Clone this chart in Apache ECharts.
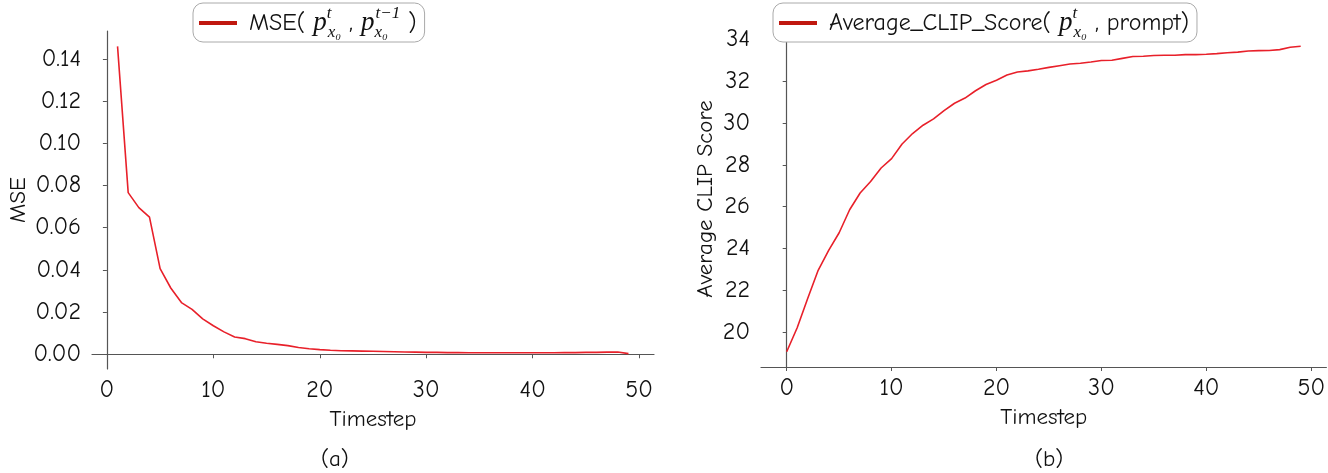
<!DOCTYPE html>
<html>
<head>
<meta charset="utf-8">
<script src="https://cdn.jsdelivr.net/npm/echarts@6/dist/echarts.min.js"></script>
<style>
  html, body { margin: 0; padding: 0; background: #fff; }
  #chart { width: 1328px; height: 473px; }
</style>
</head>
<body>
<div id="chart"></div>
<script>
// 数据：MSE（左图），t = 1..49
const mseSteps = [1, 2, 3, 4, 5, 6, 7, 8, 9, 10, 11, 12, 13, 14, 15, 16, 17, 18, 19, 20,
    21, 22, 23, 24, 25, 26, 27, 28, 29, 30, 31, 32, 33, 34, 35, 36, 37, 38, 39, 40,
    41, 42, 43, 44, 45, 46, 47, 48, 49];
const mseValues = [0.1459, 0.0766, 0.0695, 0.0650, 0.0406, 0.0314, 0.0245, 0.0213, 0.0168, 0.0135,
    0.0106, 0.0082, 0.0074, 0.0059, 0.0052, 0.0047, 0.0041, 0.0032, 0.0026, 0.0022,
    0.0019, 0.0017, 0.0016, 0.0015, 0.0014, 0.0013, 0.0012, 0.0011, 0.0010, 0.0009,
    0.0009, 0.0008, 0.0008, 0.0007, 0.0007, 0.0007, 0.0007, 0.0007, 0.0007, 0.0007,
    0.0007, 0.0007, 0.0008, 0.0008, 0.0009, 0.0009, 0.0010, 0.0011, 0.0003];

// 数据：平均 CLIP 分数（右图），t = 0..49
const clipSteps = [0, 1, 2, 3, 4, 5, 6, 7, 8, 9, 10, 11, 12, 13, 14, 15, 16, 17, 18, 19,
    20, 21, 22, 23, 24, 25, 26, 27, 28, 29, 30, 31, 32, 33, 34, 35, 36, 37, 38, 39,
    40, 41, 42, 43, 44, 45, 46, 47, 48, 49];
const clipValues = [19.05, 20.2, 21.6, 22.95, 23.9, 24.75, 25.85, 26.65, 27.2, 27.85,
    28.3, 29.0, 29.5, 29.9, 30.2, 30.6, 30.95, 31.2, 31.55, 31.85,
    32.05, 32.3, 32.45, 32.5, 32.58, 32.67, 32.75, 32.83, 32.87, 32.93,
    33.0, 33.01, 33.1, 33.19, 33.2, 33.24, 33.25, 33.25, 33.28, 33.28,
    33.3, 33.33, 33.37, 33.4, 33.45, 33.47, 33.48, 33.52, 33.63, 33.68];

// 刻度
const xTicks = [0, 10, 20, 30, 40, 50];
const mseTicks = [0, 0.02, 0.04, 0.06, 0.08, 0.10, 0.12, 0.14];
const clipTicks = [20, 22, 24, 26, 28, 30, 32, 34];

const FONT = "'Comic Sans MS', 'Comic Neue', 'Noto Sans', sans-serif";
const MATH = "'Liberation Serif', 'DejaVu Serif', serif";
const LINE_COLOR = '#e8202a';
const AXIS_COLOR = '#555';

// matplotlib 默认 5% 边距
function padRange(vals) {
    const lo = Math.min(...vals), hi = Math.max(...vals);
    const m = (hi - lo) * 0.05;
    return [lo - m, hi + m];
}

const mseX = padRange(mseSteps);
const mseY = padRange(mseValues);
const clipX = padRange(clipSteps);
const clipY = padRange(clipValues);

function xAxis(idx, range) {
    return {
        type: 'value', gridIndex: idx, min: range[0], max: range[1],
        name: 'Timestep', nameLocation: 'middle', nameGap: 39,
        nameTextStyle: { fontFamily: FONT, fontSize: 23, color: '#111' },
        axisLine: { lineStyle: { color: AXIS_COLOR, width: 1.2 } },
        axisTick: { length: 4, lineStyle: { color: AXIS_COLOR }, customValues: xTicks },
        axisLabel: { customValues: xTicks, fontFamily: FONT, fontSize: 24, color: '#111', margin: 9 },
        splitLine: { show: false }
    };
}

function yAxis(idx, range, ticks, name, gap, fmt) {
    return {
        type: 'value', gridIndex: idx, min: range[0], max: range[1],
        name: name, nameLocation: 'middle', nameGap: gap, nameRotate: 90,
        nameTextStyle: { fontFamily: FONT, fontSize: 23, color: '#111' },
        axisLine: { show: true, lineStyle: { color: AXIS_COLOR, width: 1.2 } },
        axisTick: { show: true, length: 4, lineStyle: { color: AXIS_COLOR }, customValues: ticks },
        axisLabel: { customValues: ticks, fontFamily: FONT, fontSize: 24, color: '#111', margin: 11, formatter: fmt },
        splitLine: { show: false }
    };
}

const mathRich = {
    n: { fontFamily: FONT, fontSize: 24, color: '#111', lineHeight: 36 },
    p: { fontFamily: MATH, fontStyle: 'italic', fontSize: 27, color: '#111', lineHeight: 36 },
    sup0: { fontFamily: MATH, fontStyle: 'italic', fontSize: 17, color: '#111', lineHeight: 15, verticalAlign: 'top', width: 1 },
    sup: { fontFamily: MATH, fontStyle: 'italic', fontSize: 17, color: '#111', lineHeight: 15, verticalAlign: 'top' },
    sub0: { fontFamily: MATH, fontStyle: 'italic', fontSize: 17, color: '#111', lineHeight: 15, verticalAlign: 'bottom', width: 1 },
    sub: { fontFamily: MATH, fontStyle: 'italic', fontSize: 17, color: '#111', lineHeight: 15, verticalAlign: 'bottom' }
};

function legend(left, name, label) {
    return {
        data: [name], left: left, top: 3,
        padding: [2, 8, 1, 6], itemWidth: 38, itemHeight: 4, itemGap: 0,
        borderColor: '#aaa', borderWidth: 1, borderRadius: 10,
        backgroundColor: '#fff',
        icon: 'rect',
        itemStyle: { color: '#c0180f' },
        formatter: () => label,
        textStyle: { rich: mathRich, padding: [0, 0, 0, 7] }
    };
}

const chart = echarts.init(document.getElementById('chart'));
chart.setOption({
    animation: false,
    backgroundColor: '#fff',
    grid: [
        { left: 92, top: 31, width: 562, height: 338 },
        { left: 761, top: 31, width: 566, height: 336 }
    ],
    xAxis: [xAxis(0, mseX), xAxis(1, clipX)],
    yAxis: [
        yAxis(0, mseY, mseTicks, 'MSE', 62, v => v.toFixed(2)),
        yAxis(1, clipY, clipTicks, 'Average CLIP Score', 44, v => String(Math.round(v)))
    ],
    legend: [
        legend(193, 'MSE', '{n|MSE( }{p|p}{sup0|t}{sub|x₀}{n| , }{p|p}{sub0|x₀}{sup|t−1}{n| )}'),
        legend(773, 'CLIP', '{n|Average_CLIP_Score( }{p|p}{sup0|t}{sub|x₀}{n| , prompt)}')
    ],
    title: [
        { text: '(a)', left: 316, top: 443, textStyle: { fontFamily: FONT, fontSize: 23, fontWeight: 'normal', color: '#111' } },
        { text: '(b)', left: 1030, top: 443, textStyle: { fontFamily: FONT, fontSize: 23, fontWeight: 'normal', color: '#111' } }
    ],
    series: [
        {
            name: 'MSE', type: 'line', xAxisIndex: 0, yAxisIndex: 0, symbol: 'none',
            data: mseSteps.map((t, i) => [t, mseValues[i]]),
            lineStyle: { color: LINE_COLOR, width: 1.6 }, itemStyle: { color: LINE_COLOR }
        },
        {
            name: 'CLIP', type: 'line', xAxisIndex: 1, yAxisIndex: 1, symbol: 'none',
            data: clipSteps.map((t, i) => [t, clipValues[i]]),
            lineStyle: { color: LINE_COLOR, width: 1.6 }, itemStyle: { color: LINE_COLOR }
        }
    ]
});
</script>
</body>
</html>
